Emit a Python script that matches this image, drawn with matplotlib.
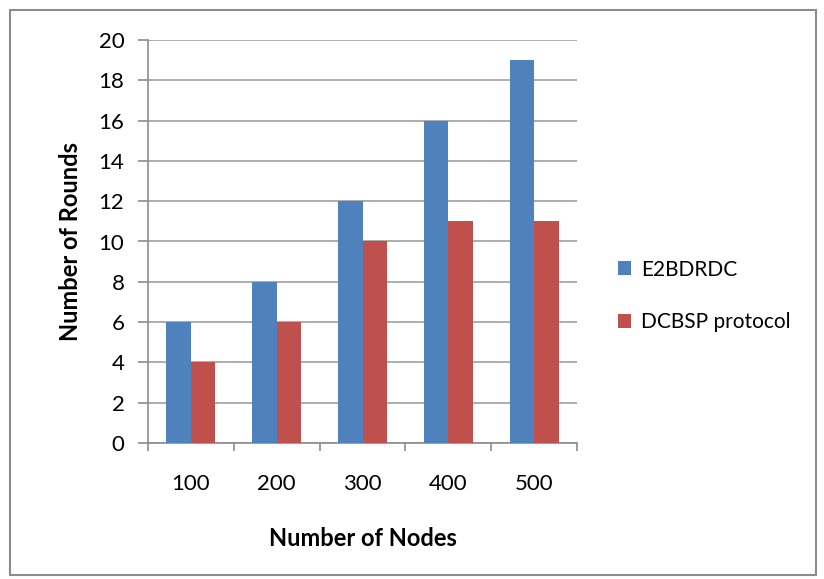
import numpy as np
import matplotlib
matplotlib.use('Agg')
import matplotlib.pyplot as plt
from matplotlib.patches import Rectangle

nodes = ['100', '200', '300', '400', '500']
e2bdrdc = [6, 8, 12, 16, 19]
dcbsp = [4, 6, 10, 11, 11]

plt.rcParams['font.family'] = ['Lato', 'DejaVu Sans']

fig = plt.figure(figsize=(8.24, 5.79), dpi=100)
# outer chart border
fig.patches.append(Rectangle((10/824, 4/579), 806/824, 565/579, transform=fig.transFigure,
                             fill=False, edgecolor='#8c8c8c', linewidth=1.5))
ax = fig.add_axes([148/824, 1-443/579, 429/824, 403/579])

x = np.arange(len(nodes))
w = 0.285
ax.bar(x - w/2, e2bdrdc, w, color='#4f81bd', label='E2BDRDC', zorder=3)
ax.bar(x + w/2, dcbsp, w, color='#c0504d', label='DCBSP protocol', zorder=3)

ax.set_xlim(-0.5, len(nodes) - 0.5)
ax.set_ylim(0, 20)
ax.set_yticks(range(0, 21, 2))
ax.yaxis.grid(True, color='#a0a0a0', linewidth=1.2, zorder=0)
ax.set_xticks(x)
ax.set_xticklabels(nodes, fontsize=16)
ax.set_xticks(np.arange(-0.5, len(nodes)), minor=True)
ax.tick_params(axis='x', which='major', length=0, pad=22)
ax.tick_params(axis='x', which='minor', length=6, color='#8c8c8c', width=1.2)
ax.tick_params(axis='y', length=7, color='#8c8c8c', width=1.2, labelsize=16, pad=10)
for s in ['top', 'right']:
    ax.spines[s].set_visible(False)
for s in ['left', 'bottom']:
    ax.spines[s].set_color('#8c8c8c')
    ax.spines[s].set_linewidth(1.2)

ax.set_xlabel('Number of Nodes', fontsize=17, fontweight='bold', labelpad=24)
ax.set_ylabel('Number of Rounds', fontsize=17, fontweight='bold', labelpad=12)

ax.legend(loc='center left', bbox_to_anchor=(1.095, 0.365), frameon=False, fontsize=15,
          handlelength=0.65, handleheight=0.65, labelspacing=1.55, handletextpad=0.45,
          borderpad=0, borderaxespad=0)

fig.savefig('out.png', dpi=100)
